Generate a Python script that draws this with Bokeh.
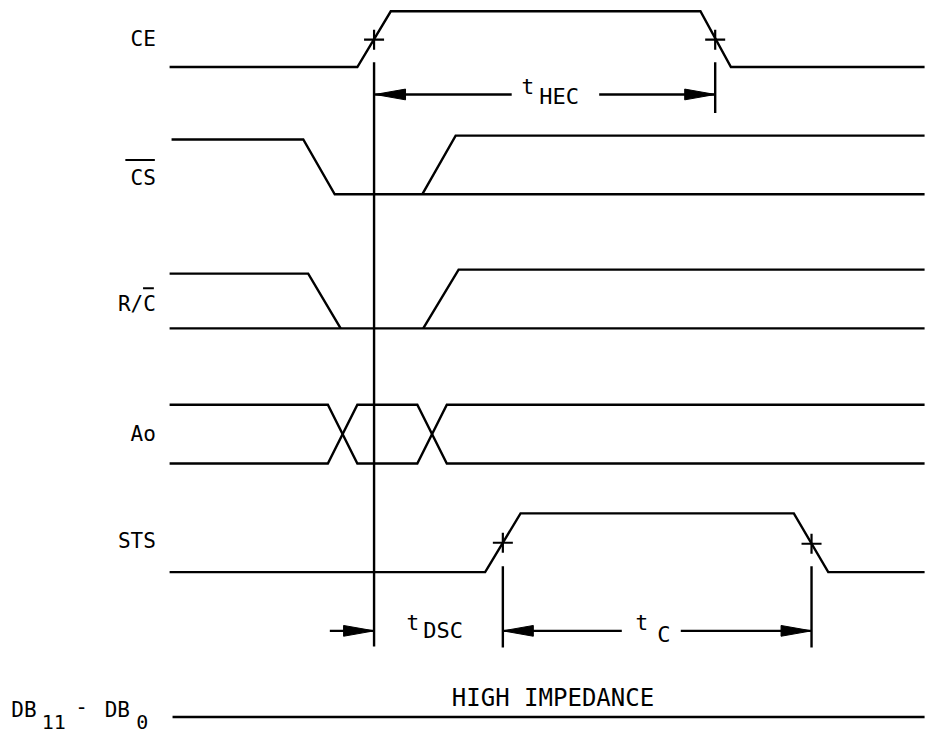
from bokeh.plotting import figure
from bokeh.models import Range1d
from bokeh.core.properties import value
from bokeh.embed import file_html
from bokeh.resources import INLINE

# ---------------- data (time axis -> x, logic level -> y, picture units) -------------
# CE
ce_x = [172, 363, 397, 712, 743, 940]
ce_y = [68, 68, 11, 11, 68, 68]
# /CS (falls, then rises; both levels drawn to the right)
cs1_x = [174, 308, 340, 940]
cs1_y = [142, 142, 198, 198]
cs2_x = [429, 463, 940]
cs2_y = [198, 138, 138]
# R/C
rc1_x = [172, 313, 346]
rc1_y = [279, 279, 335]
rc2_x = [172, 940]
rc2_y = [335, 335]
rc3_x = [430, 466, 940]
rc3_y = [335, 275, 275]
# Ao (bus style with two crossings)
ao1_x = [172, 333, 363, 424, 454, 940]
ao1_y = [413, 413, 473, 473, 413, 413]
ao2_x = [172, 333, 363, 424, 454, 940]
ao2_y = [473, 473, 413, 413, 473, 473]
# STS
sts_x = [172, 493, 529, 807, 842, 940]
sts_y = [584, 584, 524, 524, 584, 584]
# DB11-DB0 (high impedance)
db_x = [175, 940]
db_y = [732, 732]

# 50% crossing marks
mark_x = [380, 727, 511, 825]
mark_y = [40, 40, 554, 555]

# reference / extension lines
ref_x0 = [380, 727, 511, 825]
ref_y0 = [63, 63, 578, 578]
ref_y1 = [660, 115, 661, 661]

# dimension arrows
hec_y = 96
hec_left, hec_right = 381, 727
hec_gap = (520, 609)
tc_y = 644
tc_left, tc_right = 511, 825
tc_gap = (632, 692)
dsc_y = 644
dsc_from, dsc_to = 335, 380

# signal labels (right aligned)
lab_text = ["CE", "CS", "R/C", "Ao", "STS"]
lab_y = [39, 181, 310, 443, 552]

W, H = 929, 739
p = figure(width=W, height=H, output_backend="svg", toolbar_location=None,
           x_range=Range1d(0, 945), y_range=Range1d(755, 0),
           min_border=0, min_border_left=0, min_border_right=0,
           min_border_top=0, min_border_bottom=0)
p.axis.visible = False
p.grid.visible = False
p.outline_line_color = None
p.background_fill_color = "white"
p.border_fill_color = "white"

LW = 2.4
K = "black"

wave_xs = [ce_x, cs1_x, cs2_x, rc1_x, rc2_x, rc3_x, ao1_x, ao2_x, sts_x, db_x]
wave_ys = [ce_y, cs1_y, cs2_y, rc1_y, rc2_y, rc3_y, ao1_y, ao2_y, sts_y, db_y]
p.multi_line(xs=wave_xs, ys=wave_ys, line_color=K, line_width=LW, line_join="miter")

p.scatter(mark_x, mark_y, marker="cross", size=20, line_color=K, line_width=2.2)

p.segment(x0=ref_x0, y0=ref_y0, x1=ref_x0, y1=ref_y1, line_color=K, line_width=LW)

# arrow shafts
p.segment(x0=[hec_left, hec_gap[1], tc_left, tc_gap[1], dsc_from],
          y0=[hec_y, hec_y, tc_y, tc_y, dsc_y],
          x1=[hec_gap[0], hec_right, tc_gap[0], tc_right, dsc_to],
          y1=[hec_y, hec_y, tc_y, tc_y, dsc_y],
          line_color=K, line_width=LW)

# arrow heads (tip, direction)
tips = [(hec_left, hec_y, -1), (hec_right, hec_y, 1),
        (tc_left, tc_y, -1), (tc_right, tc_y, 1), (dsc_to, dsc_y, 1)]
HL, HW = 31, 5.5
hx = [[tx, tx - d * HL, tx - d * HL] for tx, ty, d in tips]
hy = [[ty, ty - HW, ty + HW] for tx, ty, d in tips]
p.patches(hx, hy, fill_color=K, line_color=K, line_width=1)

FONT = value("DejaVu Sans Mono")

p.text(x=[158] * len(lab_text), y=lab_y, text=lab_text, text_align="right",
       text_baseline="middle", text_font=FONT, text_font_size="21px", text_color=K)

# overbars on CS and C of R/C
p.segment(x0=[127, 145], y0=[163, 294], x1=[157, 156], y1=[163, 294],
          line_color=K, line_width=2)

# timing symbols: "t" + subscript
t_x = [530, 413, 646]
t_y = [88, 636, 636]
sub_text = ["HEC", "DSC", "C"]
sub_x = [548, 430, 668]
sub_y = [98, 644, 648]
p.text(x=t_x, y=t_y, text=["t"] * 3, text_align="left", text_baseline="middle",
       text_font=FONT, text_font_size="21px", text_color=K)
p.text(x=sub_x, y=sub_y, text=sub_text, text_align="left", text_baseline="middle",
       text_font=FONT, text_font_size="22px", text_color=K)

# DB11 - DB0 label
p.text(x=[11, 106], y=[725, 725], text=["DB", "DB"], text_align="left",
       text_baseline="middle", text_font=FONT, text_font_size="21px", text_color=K)
p.text(x=[42, 138], y=[737, 737], text=["11", "0"], text_align="left",
       text_baseline="middle", text_font=FONT, text_font_size="20px", text_color=K)
p.text(x=[76], y=[721], text=["-"], text_align="left",
       text_baseline="middle", text_font=FONT, text_font_size="21px", text_color=K)

p.text(x=[562], y=[713], text=["HIGH IMPEDANCE"], text_align="center",
       text_baseline="middle", text_font=FONT, text_font_size="24px", text_color=K)

open("out.html", "w").write(file_html(p, INLINE))
